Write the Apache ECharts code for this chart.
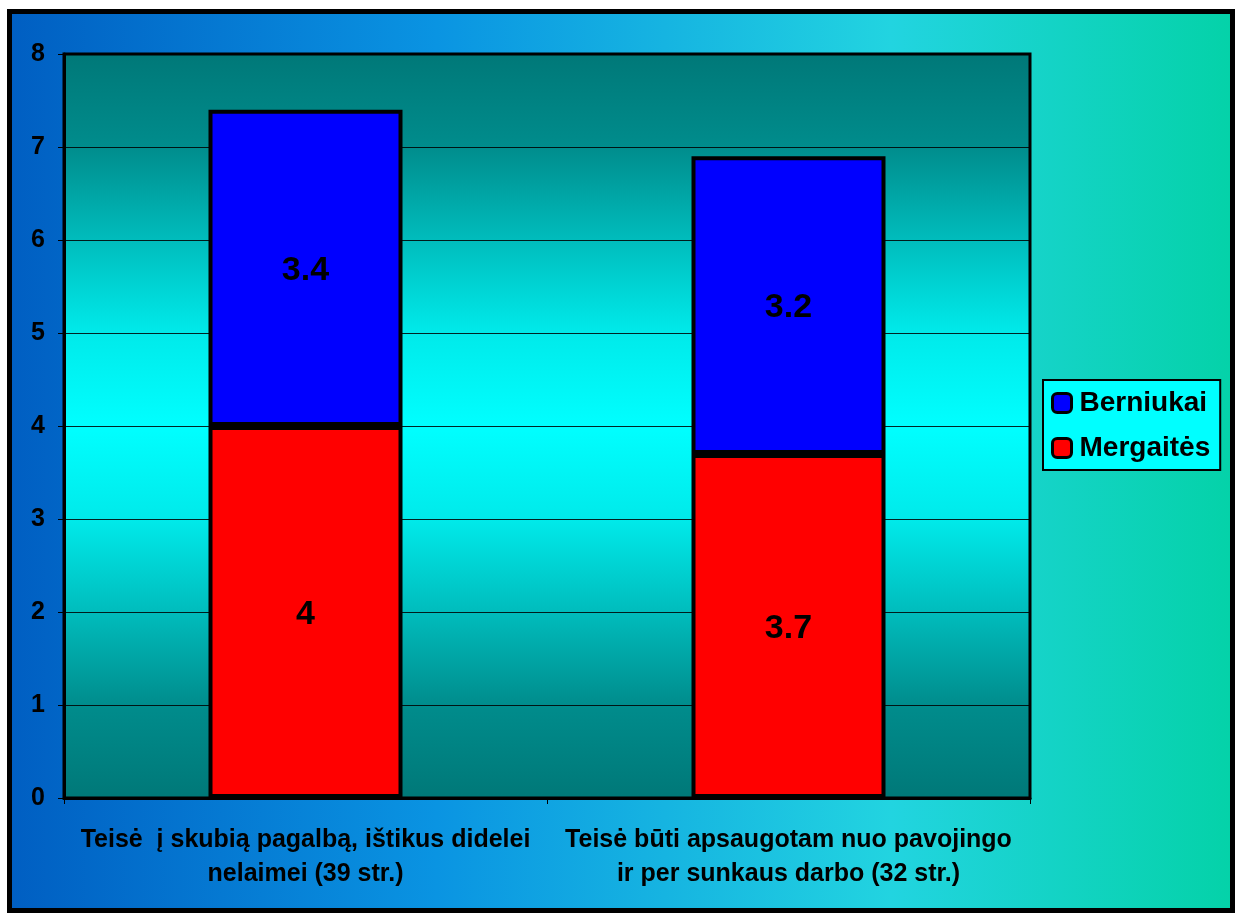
<!DOCTYPE html>
<html><head><meta charset="utf-8">
<script src="https://cdn.jsdelivr.net/npm/echarts@6/dist/echarts.min.js"></script>
<style>html,body{margin:0;padding:0;background:#fff}#c{width:1238px;height:914px}</style>
</head><body><div id="c"></div>
<script>
const categories = ["Teisė  į skubią pagalbą, ištikus didelei\nnelaimei (39 str.)", "Teisė būti apsaugotam nuo pavojingo\nir per sunkaus darbo (32 str.)"];
const seriesNames = ["Mergaitės", "Berniukai"];
const mergaites = [4, 3.7];
const berniukai = [3.4, 3.2];
const yTicks = {min: 0, max: 8, interval: 1};

const chart = echarts.init(document.getElementById('c'));
const font = '"Liberation Sans", Arial, sans-serif';
chart.setOption({
  animation: false,
  backgroundColor: 'transparent',
  graphic: [{
    type: 'rect', z: -10, silent: true,
    shape: {x: 9.5, y: 11.5, width: 1223, height: 899},
    style: {
      fill: new echarts.graphic.LinearGradient(0, 0, 1, 0, [
        {offset: 0, color: '#005ec2'},
        {offset: 0.35, color: '#0a94e2'},
        {offset: 0.72, color: '#22d4e0'},
        {offset: 1, color: '#04d2a8'}
      ]),
      stroke: '#000', lineWidth: 5
    }
  }],
  grid: {
    left: 64, top: 54, right: 208, bottom: 116,
    show: true, borderColor: '#000', borderWidth: 3,
    backgroundColor: new echarts.graphic.LinearGradient(0, 0, 0, 1, [
      {offset: 0, color: '#007878'},
      {offset: 0.125, color: '#008c8c'},
      {offset: 0.25, color: '#00bcbc'},
      {offset: 0.375, color: '#00eaea'},
      {offset: 0.5, color: '#00ffff'},
      {offset: 0.625, color: '#00eaea'},
      {offset: 0.75, color: '#00bcbc'},
      {offset: 0.875, color: '#008c8c'},
      {offset: 1, color: '#007878'}
    ])
  },
  legend: {
    orient: 'vertical', left: 1043, top: 380,
    data: ['Berniukai', 'Mergaitės'],
    backgroundColor: '#00ffff', borderColor: '#000', borderWidth: 2,
    padding: [9, 10, 8, 8], itemGap: 17,
    icon: 'roundRect', itemWidth: 19, itemHeight: 19,
    itemStyle: {borderColor: '#000', borderWidth: 3},
    textStyle: {fontFamily: font, fontWeight: 'bold', fontSize: 28, color: '#000', padding: [0, 0, 0, 3]}
  },
  xAxis: {
    type: 'category', data: categories,
    axisLine: {lineStyle: {color: '#000', width: 3}},
    axisTick: {show: true, length: 6, lineStyle: {color: '#000', width: 1}},
    axisLabel: {fontFamily: font, fontWeight: 'bold', fontSize: 25, color: '#000', lineHeight: 34, margin: 25, interval: 0}
  },
  yAxis: {
    type: 'value', min: yTicks.min, max: yTicks.max, interval: yTicks.interval,
    axisLine: {show: true, lineStyle: {color: '#000', width: 3}},
    axisTick: {show: true, length: 6, lineStyle: {color: '#000', width: 1}},
    splitLine: {show: true, lineStyle: {color: '#000', width: 1, opacity: 0.85}},
    axisLabel: {fontFamily: font, fontWeight: 'bold', fontSize: 25, color: '#000', margin: 19}
  },
  series: [
    {name: seriesNames[0], type: 'bar', stack: 's', data: mergaites, barWidth: 194,
     itemStyle: {color: '#ff0000', borderColor: '#000', borderWidth: 4},
     label: {show: true, position: 'inside', fontFamily: font, fontWeight: 'bold', fontSize: 34, color: '#000', offset: [0, 3]}},
    {name: seriesNames[1], type: 'bar', stack: 's', data: berniukai, barWidth: 194,
     itemStyle: {color: '#0000ff', borderColor: '#000', borderWidth: 4},
     label: {show: true, position: 'inside', fontFamily: font, fontWeight: 'bold', fontSize: 34, color: '#000', offset: [0, 3]}}
  ]
});
</script></body></html>
